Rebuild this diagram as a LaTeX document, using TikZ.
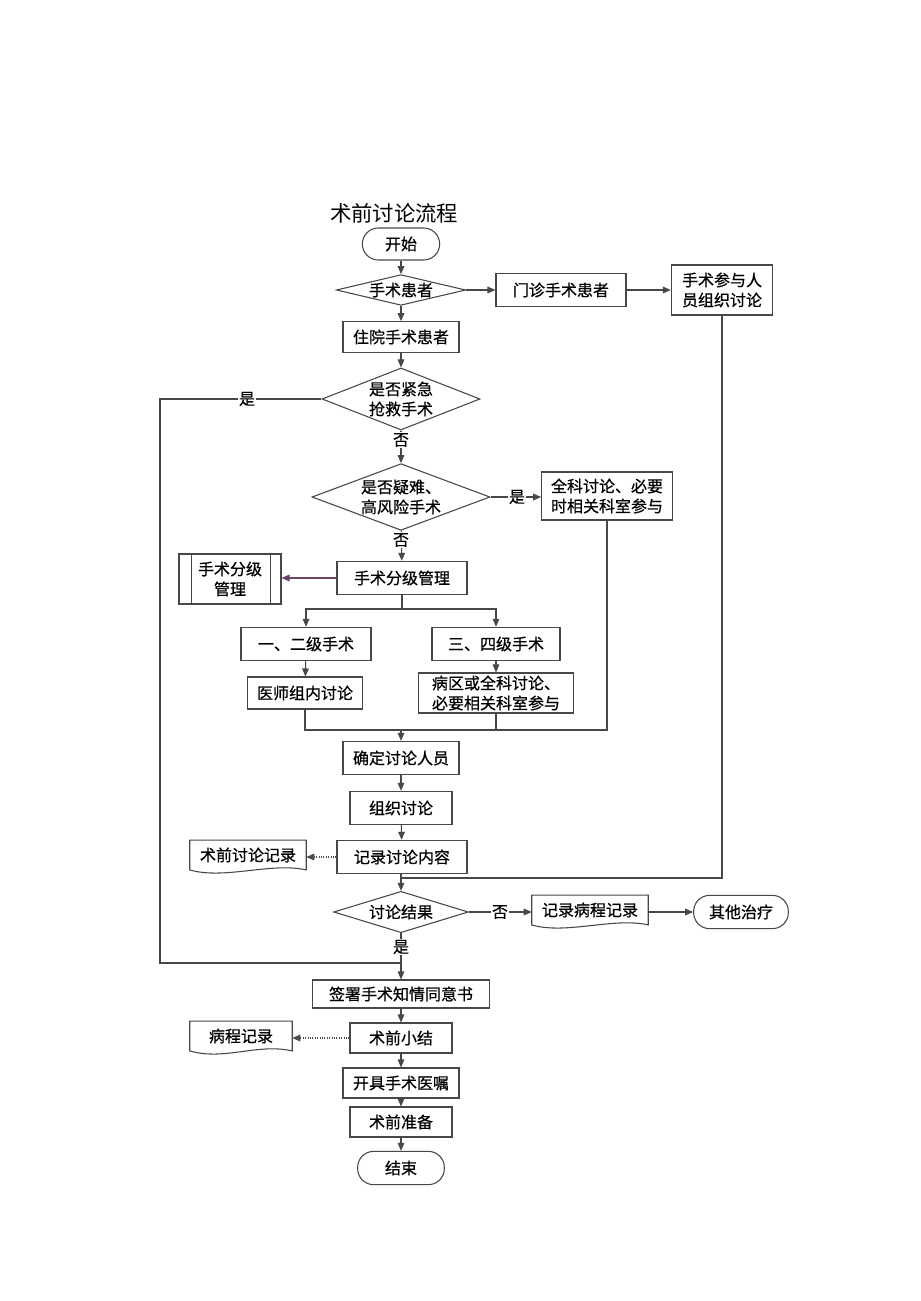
\documentclass[tikz,border=0pt]{standalone}
\usepackage{fontspec}
\newfontfamily\cjk{Noto Sans CJK SC}
\newfontfamily\cjkb[FakeBold=0.6]{Noto Sans CJK SC}
\usetikzlibrary{arrows.meta,shapes.geometric,calc}
\tikzset{
  ln/.style={draw=black!72, line width=0.8pt},
  arr/.style={ln, -{Triangle[length=6pt,width=5pt]}},
  darr/.style={draw=black!70, line width=0.8pt, densely dotted, -{Triangle[length=6pt,width=5pt]}},
  parr/.style={draw={rgb,255:red,105;green,70;blue,105}, line width=0.9pt, -{Triangle[length=6pt,width=5pt]}},
  txt/.style={font=\cjkb\fontsize{12}{15}\selectfont, align=center, text=black},
  box/.style={txt, draw=black!72, line width=0.8pt, rectangle, inner sep=0pt},
  term/.style={box, rounded corners=12pt},
  dia/.style={draw=black!72, line width=0.8pt, diamond, inner sep=0pt},
  docn/.style={txt, rectangle, inner sep=0pt},
  lbl/.style={txt, fill=white, inner sep=1pt},
}
\newcommand\docshape[1]{%
  \draw[draw=black!72, line width=0.8pt] (#1.north west) -- (#1.north east) -- (#1.south east)
    .. controls ($(#1.south east)+(-35,-8)$) and ($(#1.south west)+(35,10)$) .. (#1.south west) -- cycle;}
\begin{document}
\begin{tikzpicture}[x=0.75pt,y=-0.75pt]
\useasboundingbox (0,0) rectangle (920,1301);
\fill[white] (0,0) rectangle (920,1301);

\node[font=\cjk\fontsize{16}{18}\selectfont] (title) at (394,213) {术前讨论流程};

\node[term, minimum width=58pt, minimum height=24pt] (start) at (401,244) {开始};
\node[dia, minimum width=97pt, minimum height=23pt] (d1) at (401,290) {};
\node[txt] at (d1) {手术患者};
\node[box, minimum width=97.5pt, minimum height=25pt] (mz) at (561,290) {门诊手术患者};
\node[box, minimum width=76pt, minimum height=37.5pt] (cy) at (722,290) {手术参与人\\员组织讨论};
\node[box, minimum width=87pt, minimum height=23pt] (zy) at (401,337) {住院手术患者};
\node[dia, minimum width=118.5pt, minimum height=46.5pt] (d2) at (401,399) {};
\node[txt] at (d2) {是否紧急\\抢救手术};
\node[dia, minimum width=133.5pt, minimum height=50pt] (d3) at (401,497) {};
\node[txt] at (d3) {是否疑难、\\高风险手术};
\node[box, minimum width=98pt, minimum height=36pt] (qk) at (607,496) {全科讨论、必要\\时相关科室参与};
\node[box, minimum width=97.5pt, minimum height=25pt] (fj) at (402,578) {手术分级管理};
\node[box, minimum width=76.5pt, minimum height=37.5pt] (sub) at (230,579) {手术分级\\管理};
\draw[ln] ($(sub.north west)+(13,0)$) -- ($(sub.south west)+(13,0)$);
\draw[ln] ($(sub.north east)+(-11,0)$) -- ($(sub.south east)+(-11,0)$);
\node[box, minimum width=97.5pt, minimum height=25pt] (l12) at (306,644) {一、二级手术};
\node[box, minimum width=96pt, minimum height=25pt] (l34) at (496,644) {三、四级手术};
\node[box, minimum width=86pt, minimum height=24pt] (ys) at (305,693) {医师组内讨论};
\node[box, minimum width=116pt, minimum height=30pt] (bq) at (496,693) {病区或全科讨论、\\必要相关科室参与};
\node[box, minimum width=87pt, minimum height=25pt] (qd) at (401,758) {确定讨论人员};
\node[box, minimum width=76.5pt, minimum height=25pt] (zz) at (401,808) {组织讨论};
\node[box, minimum width=97.5pt, minimum height=25pt] (jl) at (402,857) {记录讨论内容};
\node[docn, minimum width=87pt, minimum height=22pt] (doc1) at (248,855) {术前讨论记录};
\docshape{doc1}
\node[dia, minimum width=101pt, minimum height=31pt] (d4) at (401,912) {};
\node[txt] at (d4) {讨论结果};
\node[docn, minimum width=87pt, minimum height=22pt] (doc2) at (590,910) {记录病程记录};
\docshape{doc2}
\node[term, minimum width=71pt, minimum height=25pt] (qt) at (741,912) {其他治疗};
\node[box, minimum width=133pt, minimum height=21pt] (qs) at (401,994) {签署手术知情同意书};
\node[box, minimum width=76.5pt, minimum height=22.5pt] (xj) at (401,1038) {术前小结};
\node[docn, minimum width=76.5pt, minimum height=22pt] (doc3) at (241,1036) {病程记录};
\docshape{doc3}
\node[box, minimum width=87pt, minimum height=22.5pt] (kj) at (401,1083) {开具手术医嘱};
\node[box, minimum width=76.5pt, minimum height=22.5pt] (zb) at (401,1122) {术前准备};
\node[term, minimum width=65pt, minimum height=25pt] (end) at (401,1168) {结束};

% coordinates
\coordinate (yl1) at (160,399);
\coordinate (yl2) at (160,963);
\coordinate (yl3) at (401,963);
\coordinate (br) at (402,609);
\coordinate (j1) at (401,730);
\coordinate (j2) at (401,878);

% connectors
\draw[arr] (start) -- (d1);
\draw[arr] (d1.east) -- (d1.east -| mz.west);
\draw[arr] (mz.east) -- (mz.east -| cy.west);
\draw[arr] (d1) -- (zy);
\draw[arr] (zy) -- (d2);
\draw[ln] (d2.west) -- (yl1) -- (yl2) -- (yl3);
\node[lbl] (y1) at (247,399) {是};
\draw[arr] (d2) -- (d3);
\node[lbl] (n1) at (401,440) {否};
\draw[arr] (d3.east) -- (d3.east -| qk.west);
\node[lbl] (y2) at (517,497) {是};
\draw[arr] (d3) -- (fj);
\node[lbl] (n2) at (401,540) {否};
\draw[parr] (fj.west) -- (fj.west -| sub.east);
\draw[ln] (fj.south) -- (br);
\draw[arr] (br) -| (l12.north);
\draw[arr] (br) -| (l34.north);
\draw[arr] (l12) -- (ys);
\draw[arr] (l34) -- (bq);
\draw[ln] (ys.south) |- (j1);
\draw[ln] (bq.south) |- (j1);
\draw[ln] (qk.south) |- (j1);
\draw[arr] (j1) -- (qd.north);
\draw[arr] (qd) -- (zz);
\draw[arr] (zz) -- (jl);
\draw[darr] (jl.west) -- (jl.west -| doc1.east);
\draw[ln] (cy.south) |- (j2);
\draw[arr] (jl.south -| d4.north) -- (d4.north);
\draw[arr] (d4.east) -- (d4.east -| doc2.west);
\node[lbl] (n3) at (500,912) {否};
\draw[arr] (doc2.east |- qt.west) -- (qt.west);
\draw[arr] (d4.south) -- (qs.north);
\node[lbl] (y3) at (401,947) {是};
\draw[arr] (qs) -- (xj);
\draw[darr] (xj.west) -- (xj.west -| doc3.east);
\draw[arr] (xj) -- (kj);
\draw[arr] (kj) -- (zb);
\draw[arr] (zb) -- (end);
\end{tikzpicture}
\end{document}
